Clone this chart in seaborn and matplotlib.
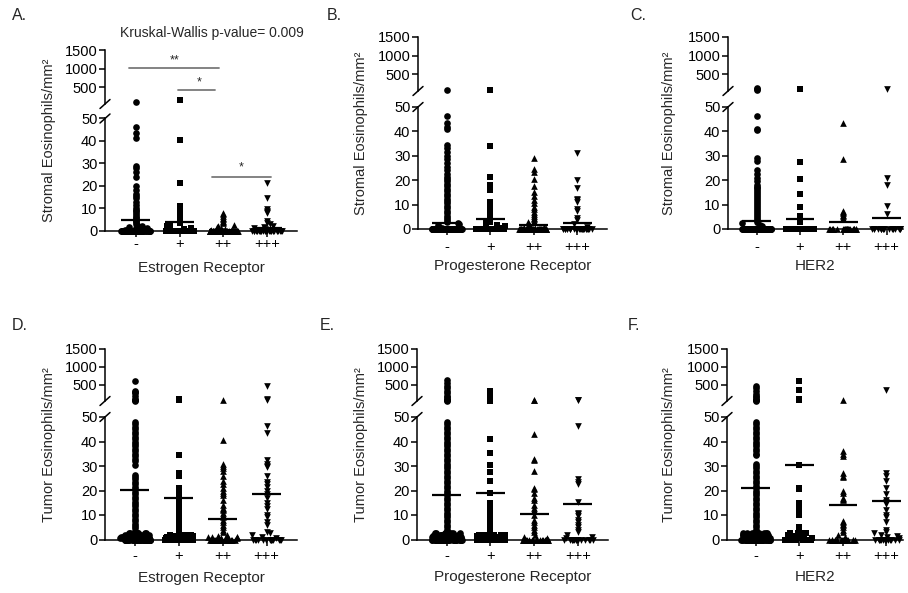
import numpy as np
import pandas as pd
import matplotlib
matplotlib.use("Agg")
import matplotlib.pyplot as plt
from matplotlib.lines import Line2D
import seaborn as sns

# ─────────────────────────────────────────────────────────────
# DATA  (eosinophils / mm²)
# ─────────────────────────────────────────────────────────────
CATEGORIES = ["-", "+", "++", "+++"]
MARKERS    = ["o", "s", "^", "v"]

# A. stromal, estrogen receptor
A_NEG  = [105, 46.3, 43.5, 41.2, 29.0, 27.8, 26.1, 24.0, 20.0, 18.0, 16.5, 15.5,
          14.7, 12.9, 11.5, 10.0, 9.2, 8.5, 7.8, 7.0, 6.2, 5.5, 4.8, 4.2, 3.6,
          3.0, 2.5, 2.0, 1.6, 1.2, 0.9, 0.6, 0.4, 0.2] + [0] * 80
A_POS  = [150, 40.2, 21.3, 10.8, 10.2, 9.6, 9.0, 8.2, 7.4, 6.5, 5.6, 4.8, 4.0,
          3.3, 2.5, 1.8, 1.2, 0.6] + [0] * 40
A_POS2 = [8.0, 7.3, 6.6, 5.8, 5.0, 4.4, 3.8, 3.2, 2.6, 2.0, 1.5, 1.0, 0.6,
          0.3] + [0] * 40
A_POS3 = [21.0, 14.5, 9.5, 8.8, 8.2, 7.6, 4.2, 3.5, 2.8, 2.0, 1.5, 1.0,
          0.6] + [0] * 30
A_MEANS = [4.6, 3.8, 0.3, 1.1]

# B. stromal, progesterone receptor
B_NEG  = [75, 46.5, 43.5, 42.0, 41.0, 34.5, 33.0, 31.5, 30.0, 28.5, 27.0, 25.5,
          24.0, 22.5, 21.5, 20.5, 19.5, 18.5, 17.5, 16.5, 15.5, 14.5, 13.5,
          12.5, 11.5, 10.5, 9.5, 8.5, 7.5, 6.5, 5.5, 4.5, 3.5, 3.0, 2.5, 2.0,
          1.5, 1.0, 0.7, 0.4, 0.2] + [0] * 100
B_POS  = [85, 70, 34.0, 21.5, 18.0, 17.0, 16.0, 11.0, 10.3, 9.6, 9.0, 8.3, 7.6,
          7.0, 6.3, 5.6, 5.0, 4.3, 3.6, 3.0, 2.4, 1.8, 1.2, 0.6] + [0] * 50
B_POS2 = [29.0, 24.5, 23.5, 20.5, 17.5, 15.0, 13.5, 12.0, 10.5, 9.0, 8.0, 7.0,
          6.0, 5.3, 4.6, 4.0, 3.4, 2.8, 2.2, 1.6, 1.0, 0.5] + [0] * 50
B_POS3 = [31.0, 20.0, 17.0, 12.5, 11.8, 11.2, 8.0, 7.4, 4.6, 3.6, 2.0,
          1.0] + [0] * 30
B_MEANS = [2.3, 4.0, 1.6, 2.4]

# C. stromal, HER2
C_NEG  = [120, 95, 70, 46.5, 41.0, 40.5, 29.0, 28.0, 24.0, 22.5, 21.0, 19.5,
          18.2, 17.4, 16.6, 15.8, 15.0, 14.2, 13.4, 12.6, 11.8, 11.0, 10.2, 9.4,
          8.6, 7.8, 7.0, 6.2, 5.4, 4.6, 3.8, 3.0, 2.4, 1.8, 1.2, 0.6] + [0] * 90
C_POS  = [100, 27.5, 20.3, 14.3, 8.9, 5.2, 4.2, 3.6, 3.0] + [0] * 30
C_POS2 = [43.5, 28.8, 7.5, 7.0, 6.4, 5.8, 5.2, 4.6] + [0] * 25
C_POS3 = [100, 21.0, 18.0, 9.5, 6.0] + [0] * 20
C_MEANS = [3.4, 4.2, 2.9, 4.4]

# D. tumor, estrogen receptor
D_NEG  = [620, 330, 300, 260, 200, 110, 90, 75, 60,
          48, 47, 46, 45, 44, 43, 42, 41, 40, 39, 38, 37, 36, 35, 34, 33, 32,
          30.5, 26.5, 25.5, 24.5, 23.5, 22.5, 21.5, 20.5, 19.5, 18.5, 17.5,
          16.5, 15.5, 14.5, 13.5, 12.5, 11.5, 10.5, 9.5, 8.5, 7.5, 6.5, 5.5,
          4.5, 3.5] + [2.5] * 8 + [2.0] * 10 + [1.5] * 10 + [1.0] * 12 \
         + [0.5] * 12 + [0] * 40
D_POS  = [110, 95, 85, 75, 65, 34.5, 27.0, 26.5, 26.0, 21.0, 20.0, 19.0, 18.0,
          17.0, 16.0, 15.0, 14.0, 13.0, 12.0, 11.0, 10.0, 9.0, 8.0, 7.0, 6.0,
          5.0, 4.0, 3.0] + [2.0] * 6 + [1.5] * 6 + [1.0] * 8 + [0.5] * 8 \
         + [0] * 25
D_POS2 = [90, 40.5, 31.0, 30.0, 29.0, 28.0, 26.0, 24.0, 22.5, 21.0, 20.0, 19.0,
          18.0, 16.0, 14.0, 13.0, 12.5, 12.0, 11.0, 10.0, 9.0, 8.0, 7.0, 6.0,
          5.0, 4.0, 3.0, 2.0, 1.5, 1.0, 0.5] + [1.0] * 5 + [0.5] * 5 + [0] * 20
D_POS3 = [480, 100, 80, 46.5, 43.5, 32.5, 31.0, 30.0, 29.5, 26.0, 23.5, 22.5,
          21.5, 20.0, 18.5, 17.0, 15.0, 13.5, 12.5, 10.0, 9.0, 7.0, 6.0, 3.0,
          2.5, 2.0, 1.0, 0.5] + [0] * 15
D_MEANS = [20.3, 16.8, 8.5, 18.4]

# E. tumor, progesterone receptor
E_NEG  = [640, 560, 480, 400, 330, 260, 200, 150, 110, 90, 75, 60,
          48, 47, 46, 45, 44, 43, 42, 41, 40, 39, 38, 37, 36, 35, 34, 33, 32,
          31, 30, 29, 28, 27, 26, 25, 24, 23, 22, 21, 20, 19, 18, 17, 16, 15,
          14, 13, 12, 11, 10, 9, 8, 7, 6, 5, 4, 3.5] + [2.5] * 8 + [2.0] * 10 \
         + [1.5] * 10 + [1.0] * 12 + [0.5] * 12 + [0] * 40
E_POS  = [320, 250, 120, 100, 85, 70, 60, 41.0, 35.5, 30.5, 27.5, 24.0, 19.0,
          15.0, 14.0, 13.0, 12.0, 11.0, 10.0, 9.0, 8.0, 7.0, 6.0, 5.0, 4.0,
          3.0] + [2.0] * 8 + [1.5] * 8 + [1.0] * 8 + [0.5] * 8 + [0] * 25
E_POS2 = [90, 70, 43.0, 33.0, 32.5, 28.0, 21.0, 20.5, 19.0, 17.0, 16.0, 14.0,
          13.0, 12.0, 10.0, 8.0, 7.0, 6.0, 5.0, 4.0, 3.0, 2.0, 1.0,
          0.5] + [0] * 20
E_POS3 = [80, 75, 46.5, 24.5, 23.5, 22.5, 15.5, 11.0, 10.5, 9.5, 8.0, 7.0, 6.0,
          5.0, 4.0, 3.0, 2.0, 1.0, 0.5] + [0] * 15
E_MEANS = [18.3, 19.0, 10.5, 14.3]

# F. tumor, HER2
F_NEG  = [480, 400, 320, 250, 200, 150, 110, 90, 75, 60,
          48, 47, 46, 45, 44, 43, 42, 41, 40, 39, 38, 37, 36, 35, 34.5, 31, 30,
          29, 28, 27, 26, 25, 24, 23, 22, 21, 20, 19, 18, 17, 16, 15, 14, 13,
          12, 11, 10, 9, 8, 7, 6, 5, 4, 3.5] + [2.5] * 8 + [2.0] * 10 \
         + [1.5] * 10 + [1.0] * 12 + [0.5] * 12 + [0] * 40
F_POS  = [600, 350, 100, 80, 30.5, 30.5, 21.0, 20.5, 15.0, 14.0, 13.0, 12.0,
          11.0, 10.0, 5.0, 4.5, 4.0, 3.5, 3.0, 2.0, 1.0] + [2.5] * 5 \
         + [1.5] * 5 + [0.5] * 6 + [0] * 20
F_POS2 = [90, 36.0, 35.0, 34.0, 27.0, 26.0, 25.5, 20.0, 19.0, 17.0, 16.5, 16.0,
          7.5, 7.0, 6.5, 6.0, 5.0, 4.0, 3.0, 2.0, 1.0] + [0] * 15
F_POS3 = [350, 27.0, 26.0, 24.0, 21.0, 18.5, 16.0, 15.5, 14.5, 12.0, 10.0, 9.0,
          7.0, 4.0, 3.0, 2.5, 2.0, 1.5, 1.0, 0.5] + [0] * 15
F_MEANS = [21.2, 30.6, 13.9, 15.9]

STROMAL = "Stromal Eosinophils/mm\u00b2"
TUMOR   = "Tumor Eosinophils/mm\u00b2"

# ─────────────────────────────────────────────────────────────
# LAYOUT  (pixel positions in the 908 x 593 figure)
# ─────────────────────────────────────────────────────────────
W, H = 908, 593
PANELS = [
    dict(letter="A.", lxy=(12, 15), x=(105, 297), upper=(50, 104), lower=(118.5, 230.5),
         xlim=(-0.70, 3.68), ylab=STROMAL, ylx=49, xlab="Estrogen Receptor",
         xly=268, tky=243, groups=[A_NEG, A_POS, A_POS2, A_POS3], means=A_MEANS),
    dict(letter="B.", lxy=(327, 15), x=(418, 607), upper=(37, 91), lower=(107, 229),
         xlim=(-0.66, 3.68), ylab=STROMAL, ylx=361, xlab="Progesterone Receptor",
         xly=266, tky=246, groups=[B_NEG, B_POS, B_POS2, B_POS3], means=B_MEANS),
    dict(letter="C.", lxy=(630, 15), x=(728, 903), upper=(37, 91), lower=(107, 229),
         xlim=(-0.66, 3.38), ylab=STROMAL, ylx=669, xlab="HER2",
         xly=266, tky=246, groups=[C_NEG, C_POS, C_POS2, C_POS3], means=C_MEANS),
    dict(letter="D.", lxy=(12, 326), x=(105, 297), upper=(349, 401), lower=(417, 539.5),
         xlim=(-0.68, 3.69), ylab=TUMOR, ylx=49, xlab="Estrogen Receptor",
         xly=578, tky=555, groups=[D_NEG, D_POS, D_POS2, D_POS3], means=D_MEANS),
    dict(letter="E.", lxy=(320, 326), x=(417, 608), upper=(349, 401), lower=(417, 539.5),
         xlim=(-0.68, 3.69), ylab=TUMOR, ylx=361, xlab="Progesterone Receptor",
         xly=577, tky=555, groups=[E_NEG, E_POS, E_POS2, E_POS3], means=E_MEANS),
    dict(letter="F.", lxy=(628, 326), x=(727, 903), upper=(349, 401), lower=(417, 539.5),
         xlim=(-0.66, 3.38), ylab=TUMOR, ylx=669, xlab="HER2",
         xly=577, tky=555, groups=[F_NEG, F_POS, F_POS2, F_POS3], means=F_MEANS),
]

BAND_MAX = 3.0     # values below this pile up in the horizontal band at zero
BAND_SPREAD = 0.34
DOT = 4.8

sns.set_theme(style="ticks")
plt.rcParams["font.family"] = ["Liberation Sans", "DejaVu Sans"]
np.random.seed(3)   # fixes the horizontal spread of the zero band only

fig = plt.figure(figsize=(W / 100, H / 100), dpi=100)
LW = 1.1
TICK_LEN = 4


def px_axes(left, right, top, bottom):
    return fig.add_axes([left / W, 1 - bottom / H, (right - left) / W, (bottom - top) / H])


def slash(x, y):
    # little diagonal break mark crossing the y axis at (x, y) in pixels
    fig.add_artist(Line2D([(x - 5) / W, (x + 5) / W], [1 - (y + 4.5) / H, 1 - (y - 4.5) / H],
                          transform=fig.transFigure, color="black", lw=LW))


def style_axis(ax):
    for side in ("top", "right"):
        ax.spines[side].set_visible(False)
    for side in ("left", "bottom"):
        ax.spines[side].set_linewidth(LW)
        ax.spines[side].set_color("black")
    ax.tick_params(length=TICK_LEN, width=LW, color="black", labelsize=10.5,
                   labelcolor="black", pad=1.5)
    ax.set_xlabel("")
    ax.set_ylabel("")


def scatter_group(ax, cat, marker, vals, jitter):
    if len(vals) == 0:
        return
    df = pd.DataFrame({"group": cat, "value": vals})
    sns.stripplot(data=df, x="group", y="value", order=CATEGORIES, marker=marker,
                  color="black", size=DOT, linewidth=0, jitter=jitter, ax=ax)


def draw_panel(p):
    left, right = p["x"]
    up = px_axes(left, right, *p["upper"])
    lo = px_axes(left, right, *p["lower"])

    for cat, marker, values in zip(CATEGORIES, MARKERS, p["groups"]):
        vals = np.asarray(values, dtype=float)
        low = vals[vals <= 50]
        scatter_group(lo, cat, marker, low[low < BAND_MAX], jitter=BAND_SPREAD)
        scatter_group(lo, cat, marker, low[low >= BAND_MAX], jitter=False)
        scatter_group(up, cat, marker, vals[vals > 50], jitter=False)

    for ax in (up, lo):
        for coll in ax.collections:
            coll.set_clip_on(False)
            coll.set_zorder(3)

    pos = np.arange(len(CATEGORIES))
    lo.hlines(p["means"], pos - 0.33, pos + 0.33, color="black", lw=1.6, zorder=5,
              clip_on=False)

    # lower segment
    style_axis(lo)
    lo.set_xlim(p["xlim"])
    lo.set_ylim(0, 50)
    lo.set_yticks(range(0, 51, 10))
    lo.set_xticks(pos)
    lo.set_xticklabels(CATEGORIES)
    tick_pad = (p["tky"] - p["lower"][1] - TICK_LEN - 8) * 0.72
    lo.tick_params(axis="x", pad=max(tick_pad, 0.5))

    # upper segment
    style_axis(up)
    up.spines["bottom"].set_visible(False)
    up.set_xlim(p["xlim"])
    up.set_ylim(50, 1500)
    up.set_yticks([500, 1000, 1500])
    up.set_xticks([])

    slash(left, p["upper"][1])
    slash(left, p["lower"][0])

    fig.text(p["ylx"] / W, 1 - (p["upper"][0] + p["lower"][1]) / 2 / H, p["ylab"],
             rotation=90, ha="center", va="center", fontsize=10.5)
    fig.text((left + right) / 2 / W, 1 - p["xly"] / H, p["xlab"],
             ha="center", va="center", fontsize=11)
    fig.text(p["lxy"][0] / W, 1 - p["lxy"][1] / H, p["letter"],
             ha="left", va="center", fontsize=11.5)
    return up, lo


axes = [draw_panel(p) for p in PANELS]

# significance annotations on panel A
up_a, lo_a = axes[0]
GREY = "#7a7a7a"
up_a.plot([-0.15, 1.91], [1020, 1020], color=GREY, lw=1.3, clip_on=False)
up_a.text(0.88, 1070, "**", ha="center", va="bottom", fontsize=9)
up_a.plot([0.97, 1.82], [430, 430], color=GREY, lw=1.3, clip_on=False)
up_a.text(1.45, 480, "*", ha="center", va="bottom", fontsize=9)
lo_a.plot([1.75, 3.09], [24, 24], color=GREY, lw=1.3, clip_on=False)
lo_a.text(2.4, 25.5, "*", ha="center", va="bottom", fontsize=9)

fig.text(212 / W, 1 - 33 / H, "Kruskal-Wallis p-value= 0.009",
         ha="center", va="center", fontsize=10)

fig.savefig("out.png", dpi=100)
